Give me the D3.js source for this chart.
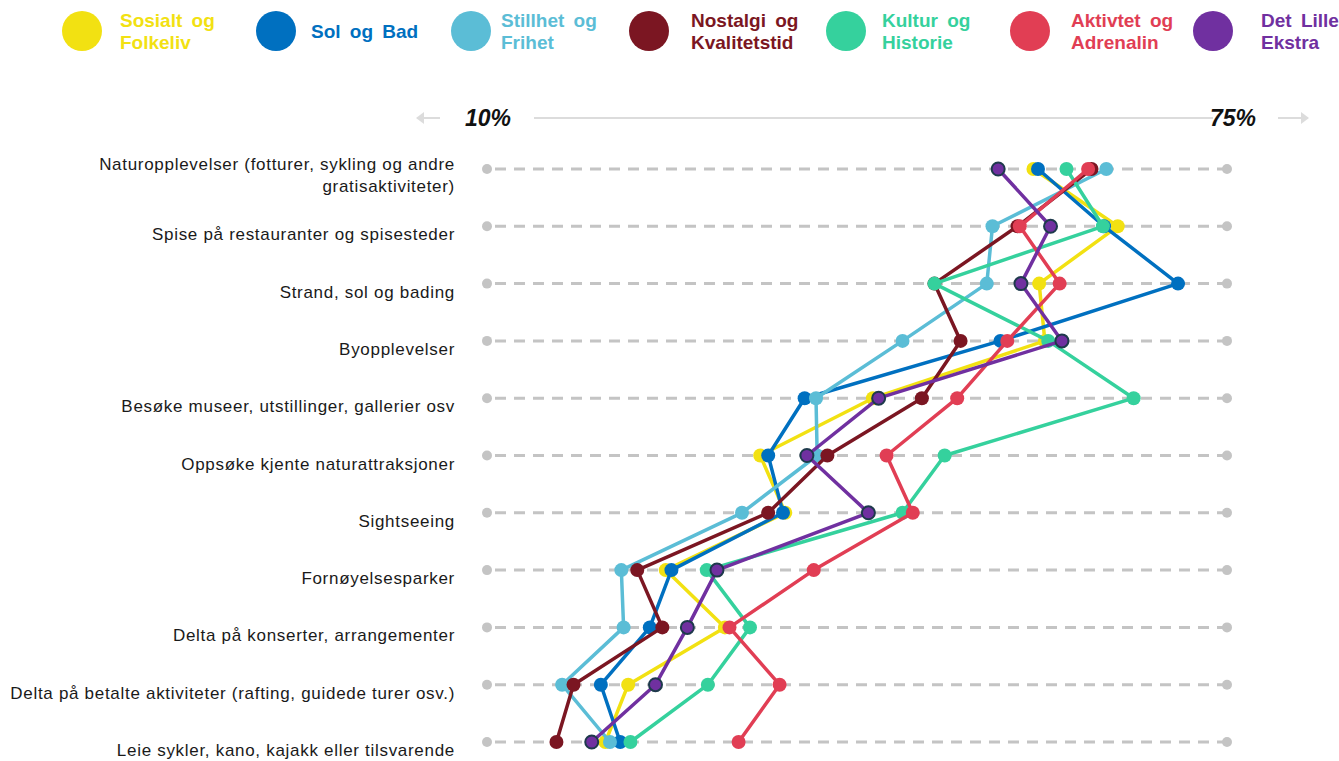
<!DOCTYPE html>
<html>
<head>
<meta charset="utf-8">
<script src="https://cdn.jsdelivr.net/npm/d3@7"></script>
<style>
  body { margin: 0; background: #fff; }
  text { font-family: Arial, "Liberation Sans", sans-serif; }
</style>
</head>
<body>
<div class="grafico"></div>
<script>
/* Kategorier (rader) */
const categories = [
  "Naturopplevelser (fotturer, sykling og andre|gratisaktiviteter)",
  "Spise på restauranter og spisesteder",
  "Strand, sol og bading",
  "Byopplevelser",
  "Besøke museer, utstillinger, gallerier osv",
  "Oppsøke kjente naturattraksjoner",
  "Sightseeing",
  "Fornøyelsesparker",
  "Delta på konserter, arrangementer",
  "Delta på betalte aktiviteter (rafting, guidede turer osv.)",
  "Leie sykler, kano, kajakk eller tilsvarende"
]

/* Segmenter */
const segments = ["Sosialt og|Folkeliv", "Sol og Bad", "Stillhet og|Frihet", "Nostalgi og|Kvalitetstid",
  "Kultur og|Historie", "Aktivtet og|Adrenalin", "Det Lille|Ekstra"]
const colors = ["#f2e112", "#0070c0", "#5bbdd6", "#7b1622", "#35d19d", "#e13e54", "#7030a0"]

/* Verdier i prosent, en liste per segment */
const sosialt   = [58.0, 65.4, 58.5, 59.0, 43.9, 34.0, 36.2, 25.7, 30.9, 22.4, 20.4]
const solBad    = [58.4, 64.2, 70.7, 55.1, 37.9, 34.7, 36.0, 26.2, 24.3, 20.0, 21.7]
const stillhet  = [64.4, 54.4, 53.9, 46.5, 38.9, 39.0, 32.4, 21.8, 22.0, 16.6, 20.8]
const nostalgi  = [63.1, 56.6, 49.3, 51.6, 48.2, 39.9, 34.7, 23.2, 25.4, 17.6, 16.1]
const kultur    = [60.9, 64.1, 49.3, 59.3, 66.8, 50.2, 46.5, 29.3, 33.1, 29.4, 22.6]
const aktivitet = [62.8, 56.8, 60.3, 55.7, 51.3, 45.1, 47.4, 38.7, 31.3, 35.7, 32.1]
const detLille  = [54.9, 59.5, 56.9, 60.5, 44.4, 38.1, 43.5, 30.2, 27.6, 24.8, 19.2]

const series = [sosialt, solBad, stillhet, nostalgi, kultur, aktivitet, detLille]
const axisMin = 10
const axisMax = 75

const w = 1339
const h = 761

/* Plassering av legend (sirkel og tekst) */
const legendCircleX = [82, 276, 471, 649, 846, 1030, 1213]
const legendTextX = [120, 311, 501, 691, 882, 1071, 1261]

const svg = d3.select('.grafico')
  .append('svg')
  .attr('width', w)
  .attr('height', h)

/* Skalaer */
const x = d3.scaleLinear().domain([axisMin, axisMax]).range([487, 1227])
const y = d3.scalePoint().domain(d3.range(categories.length)).range([169, 742])

/* Legend */
const legend = svg.append('g').selectAll('g')
  .data(segments)
  .join('g')

legend.append('circle')
  .attr('cx', (d, i) => legendCircleX[i])
  .attr('cy', 31)
  .attr('r', 20)
  .attr('fill', (d, i) => colors[i])

legend.append('text')
  .attr('fill', (d, i) => colors[i])
  .style('font-size', '19px')
  .style('font-weight', 'bold')
  .style('word-spacing', '4px')
  .each(function (d, i) {
    const lines = d.split('|')
    const t = d3.select(this)
    lines.forEach((l, k) => {
      t.append('tspan')
        .attr('x', legendTextX[i])
        .attr('y', lines.length === 1 ? 38 : 27 + k * 22)
        .text(l)
    })
  })

/* Akse-header */
const header = svg.append('g')
header.append('line')
  .attr('x1', x(axisMin) + 47).attr('x2', x(axisMax) - 14)
  .attr('y1', 118).attr('y2', 118)
  .attr('stroke', '#dcdcdc').attr('stroke-width', 2)

const arrows = [[x(axisMin) - 47, x(axisMin) - 70], [x(axisMax) + 51, x(axisMax) + 81]]
arrows.forEach(a => {
  const dir = Math.sign(a[1] - a[0])
  header.append('line')
    .attr('x1', a[0]).attr('x2', a[1])
    .attr('y1', 118).attr('y2', 118)
    .attr('stroke', '#dcdcdc').attr('stroke-width', 2)
  header.append('path')
    .attr('d', `M${a[1] + dir * 1},118 L${a[1] - dir * 7},112 L${a[1] - dir * 7},124 Z`)
    .attr('fill', '#dcdcdc')
})

header.selectAll('text.tick')
  .data([axisMin, axisMax])
  .join('text')
  .attr('class', 'tick')
  .attr('x', (d, i) => x(d) + (i === 0 ? 1 : 6))
  .attr('y', 126)
  .attr('text-anchor', 'middle')
  .style('font-size', '23px')
  .style('font-weight', 'bold')
  .style('font-style', 'italic')
  .attr('fill', '#111')
  .text(d => d + '%')

/* Rader: stiplet linje og grå endepunkter */
const rows = svg.append('g')
rows.selectAll('line')
  .data(categories)
  .join('line')
  .attr('x1', x(axisMin)).attr('x2', x(axisMax))
  .attr('y1', (d, i) => y(i)).attr('y2', (d, i) => y(i))
  .attr('stroke', '#c4c4c4')
  .attr('stroke-width', 3)
  .attr('stroke-dasharray', '11,8')
  .attr('stroke-dashoffset', -8)

categories.forEach((c, i) => {
  rows.selectAll(null)
    .data([axisMin, axisMax])
    .join('circle')
    .attr('cx', d => x(d))
    .attr('cy', y(i))
    .attr('r', 5)
    .attr('fill', '#c4c4c4')
})

/* Kategori-etiketter */
rows.selectAll('text')
  .data(categories)
  .join('text')
  .attr('text-anchor', 'end')
  .attr('fill', '#1a1a1a')
  .style('font-size', '17px')
  .style('letter-spacing', '0.7px')
  .each(function (d, i) {
    const lines = d.split('|')
    const t = d3.select(this)
    const top = y(i) + 14 - (lines.length - 1) * 13
    lines.forEach((l, k) => {
      t.append('tspan')
        .attr('x', 455)
        .attr('y', top + k * 22)
        .text(l)
    })
  })

/* Linjer og punkter per segment */
const line = d3.line()
  .x(d => x(d))
  .y((d, i) => y(i))

series.forEach((s, si) => {
  const g = svg.append('g')
  g.append('path')
    .attr('d', line(s))
    .attr('fill', 'none')
    .attr('stroke', colors[si])
    .attr('stroke-width', 3.5)
    .attr('stroke-linejoin', 'round')
  g.selectAll('circle')
    .data(s)
    .join('circle')
    .attr('cx', d => x(d))
    .attr('cy', (d, i) => y(i))
    .attr('r', si === 6 ? 6.5 : 7)
    .attr('fill', colors[si])
    .attr('stroke', si === 6 ? '#1e3a4c' : 'none')
    .attr('stroke-width', 2)
})
</script>
</body>
</html>
